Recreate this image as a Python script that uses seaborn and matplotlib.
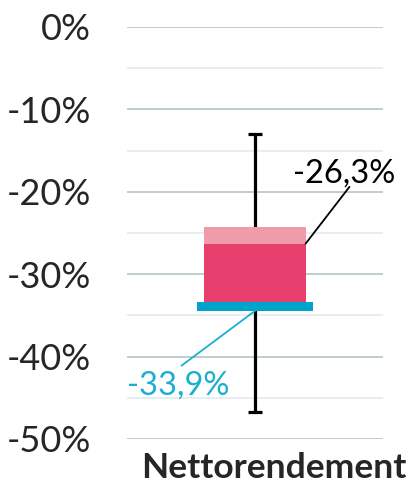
import matplotlib
matplotlib.use("Agg")
import matplotlib.pyplot as plt
import matplotlib.transforms as mtrans
import seaborn as sns
import pandas as pd

# values (percent)
category = ["Nettorendement"]
box_top = [-24.3]      # light pink upper edge
median = [-26.3]       # split between light and dark pink
box_bottom = [-33.9]   # blue marker
whisker_high = [-13.0]
whisker_low = [-46.7]
y_ticks = [0, -10, -20, -30, -40, -50]
y_minor = [-5, -15, -25, -35, -45]

light_pink = "#F09BAA"
dark_pink = "#E8406E"
blue = "#00A3C9"

sns.set_theme(style="white")
plt.rcParams["font.family"] = ["Lato", "DejaVu Sans"]

df = pd.DataFrame({"cat": category,
                   "upper": [m - t for t, m in zip(box_top, median)],
                   "lower": [b - m for m, b in zip(median, box_bottom)],
                   "median": median, "top": box_top, "bottom": box_bottom})

fig = plt.figure(figsize=(4.14, 4.84), dpi=100)
ax = fig.add_axes([127 / 414, 45 / 484, 256 / 414, 412 / 484])

# grid
for v in y_ticks:
    ax.axhline(v, color="#B3C6C8", lw=1.2, zorder=0)
for v in y_minor:
    ax.axhline(v, color="#E1EBEC", lw=1.2, zorder=0)

# whisker
ax.errorbar([0], df["median"], yerr=[[m - l for m, l in zip(median, whisker_low)],
                                     [h - m for m, h in zip(median, whisker_high)]],
            fmt="none", ecolor="black", elinewidth=2.3, capsize=5, capthick=2.3, zorder=1)

# box parts
sns.barplot(data=df, x="cat", y="upper", bottom=df["top"], color=light_pink,
            saturation=1, width=0.395, linewidth=0, ax=ax, zorder=2)
sns.barplot(data=df, x="cat", y="lower", bottom=df["median"], color=dark_pink,
            saturation=1, width=0.395, linewidth=0, ax=ax, zorder=2)
sns.barplot(data=df, x="cat", y=[-1.1], bottom=[b + 0.55 for b in box_bottom], color=blue,
            saturation=1, width=0.453, linewidth=0, ax=ax, zorder=3)

ax.set_xlim(-0.5, 0.5)
ax.set_ylim(-50, 0)
ax.set_yticks(y_ticks)
ax.set_yticklabels([f"{v}%" for v in y_ticks], fontsize=26)
ax.tick_params(axis="y", length=0, pad=26)
ax.tick_params(axis="x", length=0, pad=9)
ax.set_xticks([0])
ax.set_xticklabels(category, fontsize=25.5, fontweight="bold")
off = mtrans.ScaledTranslation(19 / 100, 0, fig.dpi_scale_trans)
for lbl in ax.get_xticklabels():
    lbl.set_transform(lbl.get_transform() + off)
ax.set_xlabel("")
ax.set_ylabel("")
for s in ax.spines.values():
    s.set_visible(False)

# annotations
ax.annotate("", xy=(0.1975, median[0]), xytext=(0.369, -19.4),
            arrowprops=dict(arrowstyle="-", color="black", lw=1.3, shrinkA=0, shrinkB=0))
ax.text(0.35, -18.9, f"{median[0]:.1f}%".replace(".", ","), ha="center", va="baseline",
        fontsize=23.5, color="black", clip_on=False)
ax.annotate("", xy=(0, box_bottom[0] - 0.55), xytext=(-0.287, -41.1),
            arrowprops=dict(arrowstyle="-", color="#1AAFD0", lw=1.3, shrinkA=0, shrinkB=0))
ax.text(-0.3, -44.6, f"{box_bottom[0]:.1f}%".replace(".", ","), ha="center", va="baseline",
        fontsize=23.5, color="#1AAFD0", clip_on=False)

fig.savefig("out.png", dpi=100)
